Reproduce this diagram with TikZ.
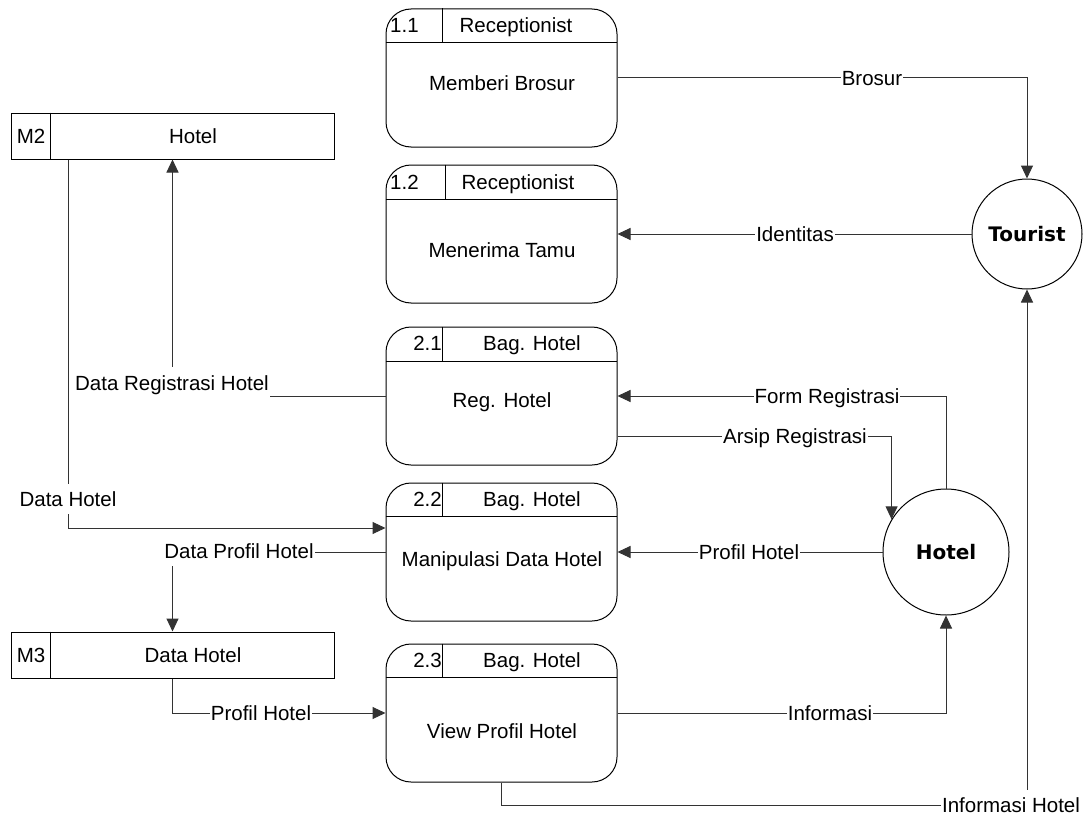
\documentclass[tikz,border=0pt]{standalone}
\usepackage{fontspec}
\setmainfont{Liberation Sans}
\newfontfamily\entityfont{DejaVu Sans}
\usetikzlibrary{arrows.meta}

\tikzset{
  proc/.style={draw=black, rounded corners=25pt, minimum width=231pt, minimum height=138pt, line width=1pt},
  store/.style={draw=black, minimum width=323pt, minimum height=46pt, line width=1pt},
  entity/.style={circle, draw=black, line width=1pt, font=\entityfont\bfseries\fontsize{20}{24}\selectfont},
  flow/.style={->, draw=black!80, line width=1pt},
  lbl/.style={fill=white, inner xsep=1pt, inner ysep=3pt},
}

\begin{document}
\begin{tikzpicture}[x=1pt, y=-1pt, inner sep=2pt, text height=19pt, text depth=4.5pt, >={Triangle[length=13pt,width=12pt]}, font=\fontsize{20.5}{24}\selectfont]
\useasboundingbox (0,0) rectangle (1087,816);
% processes
\node (p11) at (501.5,78) [proc] {};
\node (p12) at (501.5,234) [proc] {};
\node (p21) at (501.5,396) [proc] {};
\node (p22) at (501.5,552) [proc] {};
\node (p23) at (501.5,713) [proc] {};
\draw[line width=1pt] (p11.north west) ++(0,34) -- ++(231,0);
\draw[line width=1pt] (p11.north west) ++(57,0) -- ++(0,34);
\draw[line width=1pt] (p12.north west) ++(0,35) -- ++(231,0);
\draw[line width=1pt] (p12.north west) ++(60,0) -- ++(0,35);
\draw[line width=1pt] (p21.north west) ++(0,35) -- ++(231,0);
\draw[line width=1pt] (p21.north west) ++(57,0) -- ++(0,35);
\draw[line width=1pt] (p22.north west) ++(0,34) -- ++(231,0);
\draw[line width=1pt] (p22.north west) ++(57,0) -- ++(0,34);
\draw[line width=1pt] (p23.north west) ++(0,34) -- ++(231,0);
\draw[line width=1pt] (p23.north west) ++(57,0) -- ++(0,34);
\node (p11id) at (388,25) [anchor=west] {1.1};
\node (p11who) at (516,25) {Receptionist};
\node (p11txt) at (502,83) {Memberi Brosur};
\node (p12id) at (388,182) [anchor=west] {1.2};
\node (p12who) at (518,182) {Receptionist};
\node (p12txt) at (502,250) {Menerima Tamu};
\node (p21id) at (444,343) [anchor=east] {2.1};
\node (p21who) at (532,343) {Bag. Hotel};
\node (p21txt) at (502,400) {Reg. Hotel};
\node (p22id) at (444,499) [anchor=east] {2.2};
\node (p22who) at (532,499) {Bag. Hotel};
\node (p22txt) at (502,559) {Manipulasi Data Hotel};
\node (p23id) at (444,660) [anchor=east] {2.3};
\node (p23who) at (532,660) {Bag. Hotel};
\node (p23txt) at (502,731) {View Profil Hotel};
% data stores
\node (m2) at (172.5,136) [store] {};
\draw[line width=1pt] (m2.north west) ++(40,0) -- ++(0,46);
\node (m2id) at (31,136) {M2};
\node (m2txt) at (193,136) {Hotel};
\node (m3) at (172.5,655) [store] {};
\draw[line width=1pt] (m3.north west) ++(40,0) -- ++(0,46);
\node (m3id) at (31,655) {M3};
\node (m3txt) at (193,655) {Data Hotel};
% external entities
\node (tourist) at (1027,234) [entity, minimum size=110pt] {Tourist};
\node (hotel) at (946,552) [entity, minimum size=126pt] {Hotel};
\coordinate (ihc) at (1027,805);
% flows
\draw[flow] (p11) -| (tourist);
\draw[flow] (tourist) -- (p12);
\draw[flow] (hotel) |- (p21);
\draw[flow] ([yshift=-40pt]p21.east) -| (hotel.149);
\draw[flow] (hotel) -- (p22);
\draw[flow] (p23) -| (hotel);
\draw[flow] (p23) |- (ihc) -- (tourist);
\draw[flow] (p21) -| (m2);
\draw[flow] ([xshift=-104.5pt]m2.south) |- ([yshift=24pt]p22.west);
\draw[flow] (p22) -| (m3);
\draw[flow] (m3) |- (p23);
% flow labels
\node (lbrosur) at (872,78) [lbl] {Brosur};
\node (lident) at (795,234) [lbl] {Identitas};
\node (lform) at (827,396) [lbl] {Form Registrasi};
\node (larsip) at (795,436) [lbl] {Arsip Registrasi};
\node (lprofil) at (749,552) [lbl] {Profil Hotel};
\node (linfo) at (830,713) [lbl] {Informasi};
\node (linfoh) at (1011,805) [lbl] {Informasi Hotel};
\node (ldatareg) at (172,383) [lbl, inner ysep=4pt] {Data Registrasi Hotel};
\node (ldatah) at (68,499) [lbl] {Data Hotel};
\node (ldatap) at (239,551) [lbl] {Data Profil Hotel};
\node (lprofil2) at (261,713) [lbl] {Profil Hotel};
\end{tikzpicture}
\end{document}
